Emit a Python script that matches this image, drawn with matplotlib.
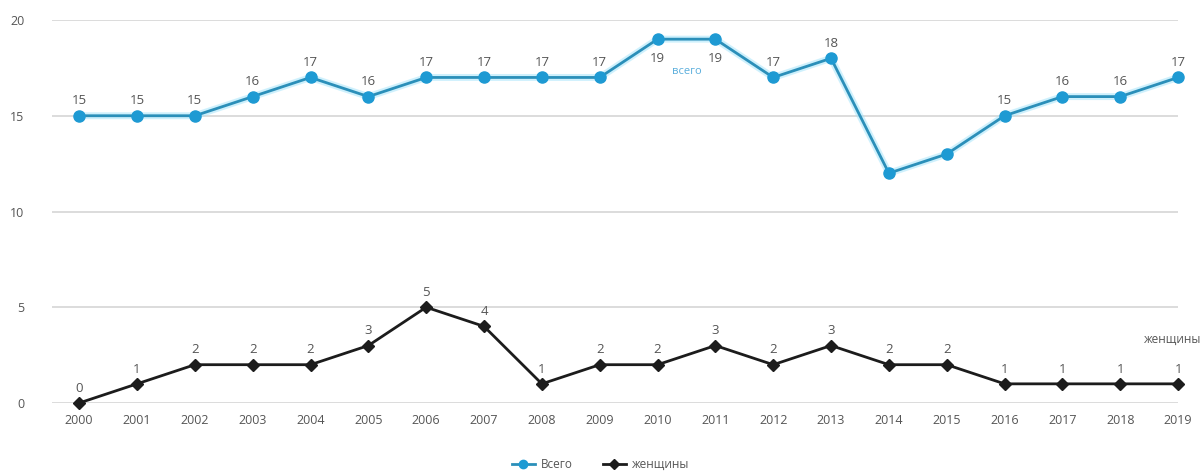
import matplotlib
matplotlib.use("Agg")
import matplotlib.pyplot as plt
from matplotlib.lines import Line2D

plt.rcParams['font.family'] = ['Open Sans', 'DejaVu Sans']

years = list(range(2000, 2020))
total = [15, 15, 15, 16, 17, 16, 17, 17, 17, 17, 19, 19, 17, 18, 12, 13, 15, 16, 16, 17]
women = [0, 1, 2, 2, 2, 3, 5, 4, 1, 2, 2, 3, 2, 3, 2, 2, 1, 1, 1, 1]
total_labeled = [True] * 14 + [False, False] + [True] * 4
total_below = [2010, 2011]
yticks = [0, 5, 10, 15, 20]

BLUE = '#1e9ad3'
BLUE_LINE = '#2b8fb9'
DARK = '#1c1c1c'
GRAY = '#555555'

fig = plt.figure(figsize=(12.01, 4.73), dpi=100)
ax = fig.add_axes([0.0433, 0.148, 0.9376, 0.8097])
ax.set_xlim(1999.53, 2019.0)
ax.set_ylim(0, 20)

for s in ax.spines.values():
    s.set_visible(False)
ax.set_yticks(yticks)
ax.set_xticks(years)
ax.set_xticklabels([str(y) for y in years])
ax.tick_params(axis='both', length=0, labelsize=9, colors=GRAY)
ax.tick_params(axis='y', pad=20)
ax.tick_params(axis='x', pad=8)
ax.grid(axis='y', color='#d6d6d6', linewidth=1.2)
ax.set_axisbelow(True)

# glow for blue series
ax.plot(years, total, color='#9fe3fb', linewidth=5, alpha=0.5, clip_on=False, zorder=2)
ax.plot(years, total, color=BLUE_LINE, linewidth=2, marker='o', markersize=8,
        markerfacecolor=BLUE, markeredgecolor=BLUE, clip_on=False, zorder=3)
ax.plot(years, women, color=DARK, linewidth=2, marker='D', markersize=6.5,
        markerfacecolor=DARK, markeredgecolor=DARK, clip_on=False, zorder=3)

for x, v, lab in zip(years, total, total_labeled):
    if not lab:
        continue
    if x in total_below:
        ax.annotate(str(v), (x, v), xytext=(0, -9), textcoords='offset points',
                    ha='center', va='top', fontsize=9.5, color=GRAY)
    else:
        ax.annotate(str(v), (x, v), xytext=(0, 6), textcoords='offset points',
                    ha='center', va='bottom', fontsize=9.5, color=GRAY)

for x, v in zip(years, women):
    ax.annotate(str(v), (x, v), xytext=(0, 6), textcoords='offset points',
                ha='center', va='bottom', fontsize=9.5, color=GRAY)

ax.text(2010.5, 17.3, 'всего', ha='center', va='center', fontsize=8, color='#5aaedc')
ax.text(2019.4, 3.3, 'женщины', ha='right', va='center', fontsize=8.5, color=GRAY)

handles = [
    Line2D([], [], color=BLUE_LINE, linewidth=2, marker='o', markersize=6,
           markerfacecolor=BLUE, markeredgecolor=BLUE),
    Line2D([], [], color=DARK, linewidth=2, marker='D', markersize=5,
           markerfacecolor=DARK, markeredgecolor=DARK),
]
fig.legend(handles, ['Всего', 'женщины'], loc='center', bbox_to_anchor=(0.5, 0.018),
           ncol=2, frameon=False, fontsize=8.5, handlelength=2.0, columnspacing=2.5,
           labelcolor=GRAY, handletextpad=0.5)

fig.savefig('out.png', dpi=100)
